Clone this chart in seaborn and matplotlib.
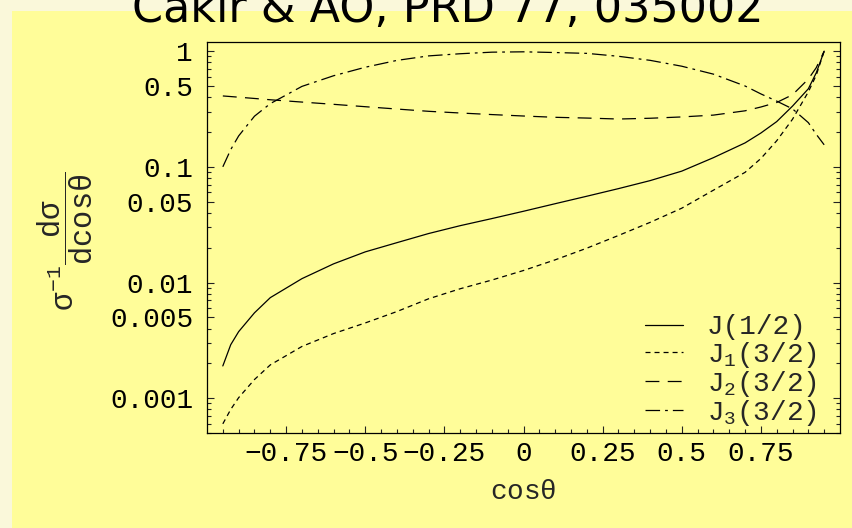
import matplotlib
matplotlib.use("Agg")
import matplotlib.pyplot as plt
from matplotlib.patches import Rectangle
from matplotlib.ticker import FixedLocator, FixedFormatter, LogLocator, NullFormatter
import seaborn as sns
import pandas as pd

# Angular distributions, normalised to 1 at cos(theta) = 0.95
cos_theta = [-0.95, -0.925, -0.9, -0.85, -0.8, -0.7, -0.6, -0.5, -0.4, -0.3,
             -0.2, -0.1, 0.0, 0.1, 0.2, 0.3, 0.4, 0.5, 0.6, 0.7,
             0.75, 0.8, 0.85, 0.9, 0.925, 0.95]
j_half = [0.0019, 0.0029, 0.00376, 0.00547, 0.0074, 0.0108, 0.0145, 0.0184, 0.0221, 0.0265,
          0.031, 0.0357, 0.0413, 0.048, 0.0557, 0.0648, 0.076, 0.0918, 0.120, 0.161,
          0.196, 0.246, 0.335, 0.473, 0.65, 1.0]
j1_three_half = [0.0006, 0.0008, 0.00101, 0.00145, 0.00194, 0.0028, 0.00362, 0.00447, 0.00561, 0.00723,
                 0.00883, 0.0105, 0.0127, 0.0157, 0.0198, 0.0255, 0.0331, 0.0439, 0.0628, 0.0896,
                 0.118, 0.168, 0.258, 0.445, 0.62, 1.0]
j2_three_half = [0.41, 0.405, 0.40, 0.39, 0.38, 0.363, 0.347, 0.331, 0.316, 0.302,
                 0.292, 0.283, 0.275, 0.268, 0.264, 0.259, 0.263, 0.270, 0.28, 0.305,
                 0.329, 0.36, 0.42, 0.574, 0.72, 1.0]
j3_three_half = [0.1, 0.141, 0.185, 0.274, 0.352, 0.496, 0.613, 0.726, 0.832, 0.91,
                 0.95, 0.98, 0.987, 0.973, 0.957, 0.903, 0.833, 0.741, 0.633, 0.50,
                 0.427, 0.37, 0.317, 0.241, 0.191, 0.155]

series_names = ["J(1/2)", "J$_1$(3/2)", "J$_2$(3/2)", "J$_3$(3/2)"]
series_values = [j_half, j1_three_half, j2_three_half, j3_three_half]

x_tick_values = [-0.75, -0.5, -0.25, 0.0, 0.25, 0.5, 0.75]
x_tick_labels = ["\u22120.75", "\u22120.5", "\u22120.25", "0", "0.25", "0.5", "0.75"]
y_tick_values = [1, 0.5, 0.1, 0.05, 0.01, 0.005, 0.001]
y_tick_labels = ["1", "0.5", "0.1", "0.05", "0.01", "0.005", "0.001"]

title_text = "Cakir & AO, PRD 77, 035002"

df = pd.concat(
    [pd.DataFrame({"cos": cos_theta, "val": vals, "series": name})
     for name, vals in zip(series_names, series_values)],
    ignore_index=True,
)

sns.set_style("ticks")
plt.rcParams["font.family"] = ["Liberation Mono", "DejaVu Sans"]
plt.rcParams["mathtext.fontset"] = "custom"
plt.rcParams["mathtext.rm"] = "Liberation Mono"
plt.rcParams["mathtext.it"] = "Liberation Mono"
plt.rcParams["mathtext.bf"] = "Liberation Mono:bold"
plt.rcParams["lines.scale_dashes"] = False

pale = "#FAF8DA"
yellow = "#FFFD99"

fig = plt.figure(figsize=(8.52, 5.28), dpi=100, facecolor=pale)
# yellow panel behind the plot
fig.patches.append(Rectangle((12 / 852, 0), 1, 1 - 11 / 528, transform=fig.transFigure,
                             facecolor=yellow, edgecolor="none", zorder=-5))

ax = fig.add_axes([207 / 852, (528 - 433) / 528, 633 / 852, 391 / 528])
ax.set_facecolor(yellow)

dash_map = {
    series_names[0]: "",
    series_names[1]: (3.6, 2.9),
    series_names[2]: (10.0, 6.0),
    series_names[3]: (10.5, 3.6, 2.0, 3.6),
}
sns.lineplot(data=df, x="cos", y="val", style="series", style_order=series_names,
             dashes=dash_map, color="black", linewidth=0.9, estimator=None,
             sort=False, legend=False, ax=ax)

ax.set_yscale("log")
ax.set_xlim(-1.0, 1.0)
ax.set_ylim(0.0005, 1.2)

ax.xaxis.set_major_locator(FixedLocator(x_tick_values))
ax.xaxis.set_major_formatter(FixedFormatter(x_tick_labels))
ax.xaxis.set_minor_locator(FixedLocator([round(-0.95 + 0.05 * i, 2) for i in range(39)]))
ax.yaxis.set_major_locator(FixedLocator(y_tick_values))
ax.yaxis.set_major_formatter(FixedFormatter(y_tick_labels))
ax.yaxis.set_minor_locator(LogLocator(base=10, subs=range(2, 10), numticks=20))
ax.yaxis.set_minor_formatter(NullFormatter())

ax.tick_params(axis="both", which="both", direction="in", color="#222222",
               width=0.8, labelsize=20, labelcolor="black")
ax.tick_params(axis="y", which="both", left=True, right=True, pad=10)
ax.tick_params(axis="x", which="both", bottom=True, top=False, pad=6)
ax.tick_params(which="major", length=5)
ax.tick_params(which="minor", length=3)

for side, spine in ax.spines.items():
    spine.set_visible(True)
    spine.set_color("black")
    spine.set_linewidth(0.9)

ax.set_xlabel(r"cos$\theta$", fontsize=20)
ax.xaxis.set_label_coords(0.5, -0.118)
ax.set_ylabel(r"$\sigma^{-1}\dfrac{\mathrm{d}\sigma}{\mathrm{dcos}\theta}$", fontsize=22)
ax.yaxis.set_label_coords(-0.177, 0.49)

handles = ax.get_lines()[:4]
leg = ax.legend(handles, series_names, loc="lower right", frameon=False, fontsize=20,
                handlelength=1.4, handletextpad=0.85, labelspacing=-0.03,
                borderpad=0, borderaxespad=0,
                bbox_to_anchor=(1 - 23 / 633, 5 / 391))

fig.text(448 / 852, 1 - 22 / 528, title_text, ha="center", va="baseline",
         fontsize=32, family="DejaVu Sans", color="black")

fig.savefig("out.png", dpi=100, facecolor=fig.get_facecolor())
